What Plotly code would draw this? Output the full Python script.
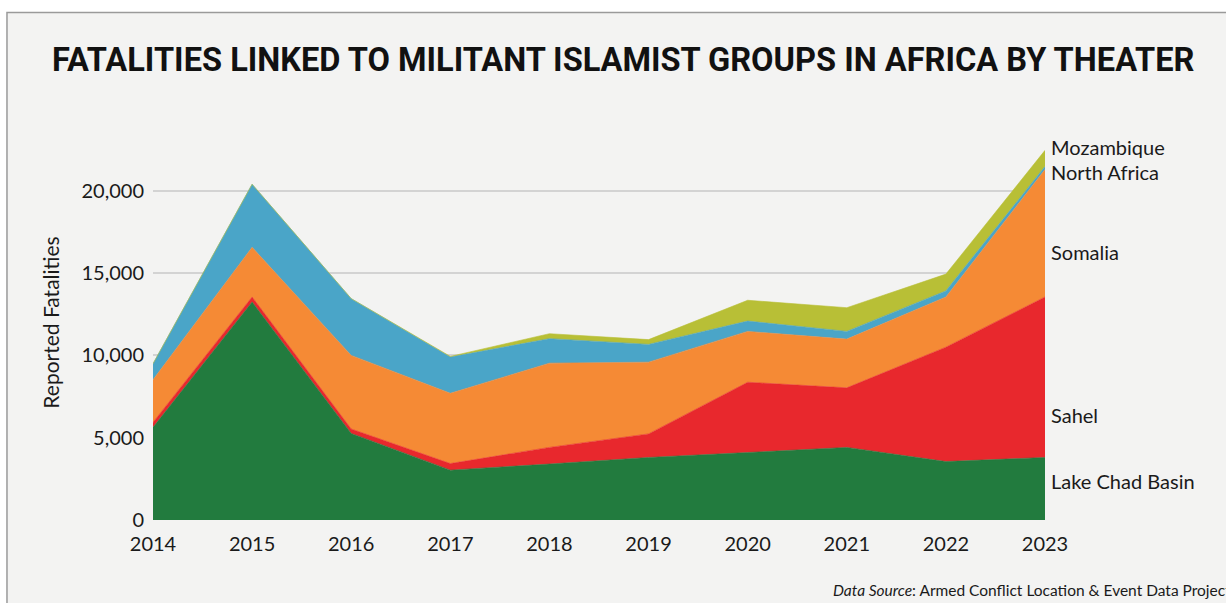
import plotly.graph_objects as go

years = [2014, 2015, 2016, 2017, 2018, 2019, 2020, 2021, 2022, 2023]
lake_chad = [5630, 13250, 5260, 3030, 3400, 3800, 4100, 4410, 3550, 3800]
sahel = [300, 300, 270, 400, 1010, 1430, 4270, 3620, 6950, 9750]
somalia = [2590, 3020, 4470, 4270, 5120, 4360, 3090, 2960, 3050, 7750]
north_africa = [970, 3830, 3450, 2200, 1490, 1080, 630, 470, 370, 180]
mozambique = [0, 0, 0, 40, 300, 290, 1260, 1440, 1020, 980]

series = [
    ("Lake Chad Basin", lake_chad, "#227b3e"),
    ("Sahel", sahel, "#e8282d"),
    ("Somalia", somalia, "#f58a35"),
    ("North Africa", north_africa, "#4aa5c8"),
    ("Mozambique", mozambique, "#b8bf36"),
]

# label position (y in data units) for the right-hand labels
label_y = {
    "Lake Chad Basin": 2350,
    "Sahel": 6400,
    "Somalia": 16300,
    "North Africa": 21150,
    "Mozambique": 22650,
}

FONT = "Lato, 'Open Sans', sans-serif"

fig = go.Figure()
for name, vals, color in series:
    fig.add_trace(go.Scatter(
        x=years, y=vals, name=name, stackgroup="one",
        mode="lines", line=dict(width=0.6, color=color),
        fillcolor=color, hoverinfo="x+y+name",
    ))
    fig.add_annotation(
        x=1.004, xref="paper", y=label_y[name], yref="y",
        text=name, showarrow=False, xanchor="left", yanchor="middle",
        font=dict(family=FONT, size=20, color="#1a1a1a"),
    )

# background panel with thin grey frame on top/left
fig.add_shape(type="rect", xref="paper", yref="paper",
              x0=-0.1637, x1=1.3, y0=-0.3, y1=1.285,
              fillcolor="#f3f3f2", line=dict(color="#9a9a9a", width=1.5),
              layer="below")

fig.add_annotation(
    x=0.528, xref="paper", y=1.165, yref="paper", yanchor="middle",
    text="<b>FATALITIES LINKED TO MILITANT ISLAMIST GROUPS IN AFRICA BY THEATER</b>",
    showarrow=False, xanchor="center",
    font=dict(family="Roboto, 'Liberation Sans', sans-serif",
              size=32.6, color="#111111"),
)
fig.add_annotation(
    x=0.76, xref="paper", y=-0.177, yref="paper",
    text="<i>Data Source</i>: Armed Conflict Location & Event Data Project",
    showarrow=False, xanchor="left", yanchor="middle",
    font=dict(family=FONT, size=15.5, color="#1a1a1a"),
)

fig.update_layout(
    width=1226, height=603,
    showlegend=False,
    margin=dict(l=153, r=181, t=125, b=83),
    paper_bgcolor="white",
    plot_bgcolor="rgba(0,0,0,0)",
    font=dict(family=FONT, size=20, color="#1a1a1a"),
)
fig.update_xaxes(
    range=[2014, 2023], tickvals=years, ticktext=[str(y) for y in years],
    showgrid=False, zeroline=False, showline=False, ticks="",
    ticklabelstandoff=10, tickfont=dict(size=20),
)
fig.update_yaxes(
    range=[0, 24000], tickvals=[0, 5000, 10000, 15000, 20000],
    ticktext=["0", "5,000", "10,000", "15,000", "20,000"],
    showgrid=True, gridcolor="#d3d3d3", gridwidth=1.5, zeroline=False,
    ticks="", ticklabelstandoff=8, tickfont=dict(size=20),
    title=dict(text="Reported Fatalities", font=dict(size=21), standoff=16),
)

fig.write_html("out.html", config={"displayModeBar": False},
               post_script="document.body.style.margin='0';")
